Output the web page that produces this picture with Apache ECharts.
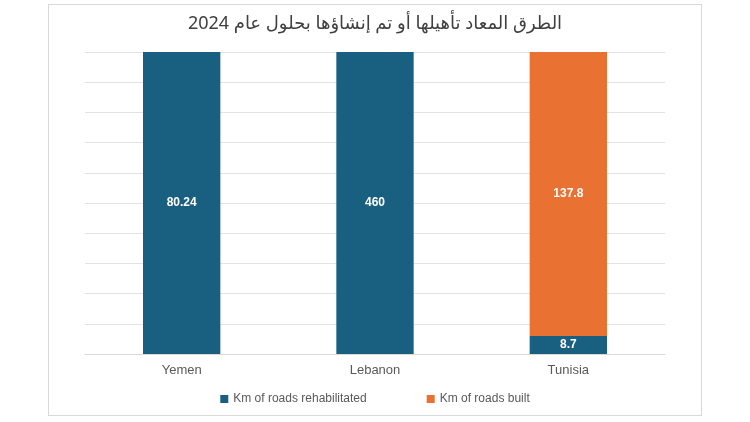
<!DOCTYPE html>
<html>
<head>
<meta charset="utf-8">
<script src="https://cdn.jsdelivr.net/npm/echarts@6/dist/echarts.min.js"></script>
<style>
  html,body{margin:0;padding:0;background:#fff;}
  #frame{position:absolute;left:48px;top:4px;width:654px;height:412px;border:1px solid #d9d9d9;box-sizing:border-box;}
  #chart{width:750px;height:422px;}
</style>
</head>
<body>
<div id="frame"></div>
<div id="chart"></div>
<script>
  var countries = ['Yemen', 'Lebanon', 'Tunisia'];
  var rehab = [80.24, 460, 8.7];
  var built = [0, 0, 137.8];

  // 100% stacked: convert to shares of each column total
  var pct = function (arr) {
    return arr.map(function (v, i) {
      var t = rehab[i] + built[i];
      return {value: v / t * 100, raw: v};
    });
  };

  var label = {
    show: true,
    color: '#fff',
    fontWeight: 'bold',
    fontSize: 12,
    fontFamily: 'Liberation Sans',
    formatter: function (p) { return p.data.raw ? p.data.raw : ''; }
  };

  var option = {
    title: {
      text: 'الطرق المعاد تأهيلها أو تم إنشاؤها بحلول عام 2024',
      left: 'center',
      top: 10,
      textStyle: {fontSize: 18, fontWeight: 'normal', color: '#404040', fontFamily: 'Noto Sans, DejaVu Sans'}
    },
    grid: {left: 85, right: 85, top: 52, bottom: 68},
    legend: {
      bottom: 12,
      itemWidth: 8, itemHeight: 8, itemGap: 60,
      icon: 'rect',
      textStyle: {fontSize: 12, color: '#595959', fontFamily: 'Liberation Sans'},
      data: ['Km of roads rehabilitated', 'Km of roads built']
    },
    xAxis: {
      type: 'category',
      data: countries,
      axisTick: {show: false},
      axisLine: {lineStyle: {color: '#d9d9d9'}},
      axisLabel: {fontSize: 13, color: '#595959', fontFamily: 'Liberation Sans', margin: 10}
    },
    yAxis: {
      type: 'value',
      min: 0, max: 100, interval: 10,
      axisLabel: {show: false},
      splitLine: {lineStyle: {color: '#e3e3e3'}}
    },
    series: [
      {name: 'Km of roads rehabilitated', type: 'bar', stack: 'a', barWidth: '40%',
       itemStyle: {color: '#196080'}, label: label, data: pct(rehab)},
      {name: 'Km of roads built', type: 'bar', stack: 'a',
       itemStyle: {color: '#E97132'}, label: label, data: pct(built)}
    ]
  };

  var myChart = echarts.init(document.getElementById('chart'));
  myChart.setOption(option);
</script>
</body>
</html>
